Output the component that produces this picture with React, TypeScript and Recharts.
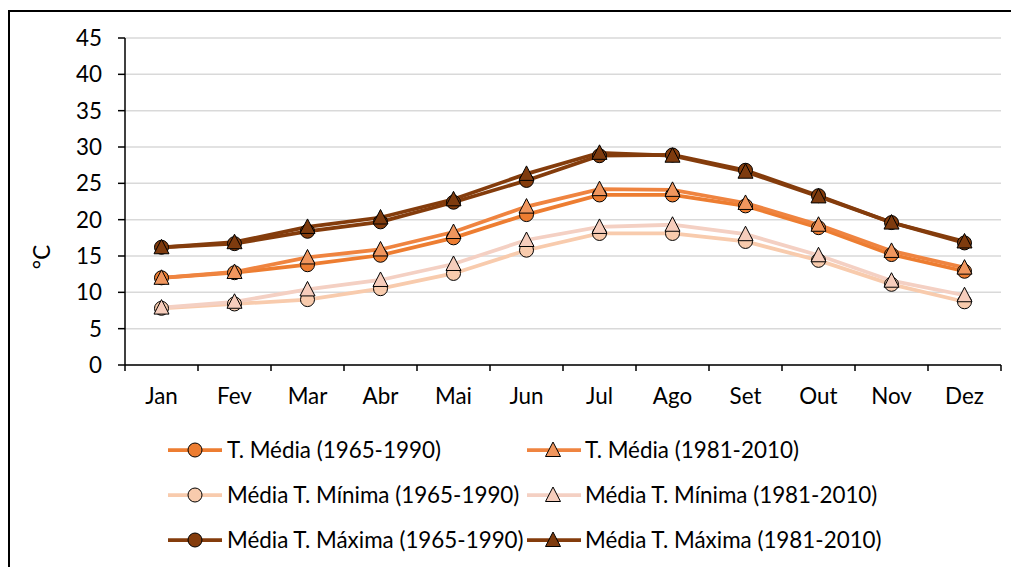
import { LineChart, Line, XAxis, YAxis, CartesianGrid } from "recharts";

const months = ["Jan", "Fev", "Mar", "Abr", "Mai", "Jun", "Jul", "Ago", "Set", "Out", "Nov", "Dez"];

const mediaA = [12.0, 12.7, 13.8, 15.1, 17.5, 20.7, 23.4, 23.4, 21.9, 18.9, 15.2, 12.9];
const mediaB = [12.0, 12.8, 14.8, 15.9, 18.3, 21.8, 24.2, 24.1, 22.3, 19.3, 15.7, 13.4];
const minA = [7.8, 8.4, 9.0, 10.5, 12.6, 15.8, 18.1, 18.1, 17.0, 14.4, 11.1, 8.7];
const minB = [7.9, 8.7, 10.4, 11.7, 13.9, 17.2, 19.0, 19.3, 18.0, 15.1, 11.6, 9.6];
const maxA = [16.2, 16.7, 18.4, 19.7, 22.4, 25.4, 28.8, 28.9, 26.8, 23.3, 19.6, 16.8];
const maxB = [16.2, 16.9, 19.0, 20.3, 22.8, 26.3, 29.2, 28.8, 26.6, 23.2, 19.6, 17.0];

const yTicks = [0, 5, 10, 15, 20, 25, 30, 35, 40, 45];

const data = months.map((m, i) => ({
  month: m,
  mediaA: mediaA[i],
  mediaB: mediaB[i],
  minA: minA[i],
  minB: minB[i],
  maxA: maxA[i],
  maxB: maxB[i],
}));

const FONT = "Lato, 'Liberation Sans', sans-serif";
const FS = 22.4;

const W = 1001;
const H = 555;
const MARGIN = { top: 26, right: 10, left: 0, bottom: 142 };
const Y_W = 115;
const PLOT_W = W - MARGIN.left - MARGIN.right - Y_W;
const BAND = PLOT_W / months.length;
const TICK_SIZE = 6;
const TICK_MARGIN = 17;

type SeriesDef = {
  key: string;
  name: string;
  line: string;
  fill: string;
  shape: "circle" | "triangle";
};

const series: SeriesDef[] = [
  { key: "mediaA", name: "T. Média (1965-1990)", line: "#ED7D31", fill: "#ED7D31", shape: "circle" },
  { key: "mediaB", name: "T. Média (1981-2010)", line: "#EF8440", fill: "#F0965E", shape: "triangle" },
  { key: "minA", name: "Média T. Mínima (1965-1990)", line: "#F8CBAD", fill: "#F8CBAD", shape: "circle" },
  { key: "minB", name: "Média T. Mínima (1981-2010)", line: "#F4D0C3", fill: "#F6CDBC", shape: "triangle" },
  { key: "maxA", name: "Média T. Máxima (1965-1990)", line: "#843C0C", fill: "#843C0C", shape: "circle" },
  { key: "maxB", name: "Média T. Máxima (1981-2010)", line: "#843C0C", fill: "#7E3B0E", shape: "triangle" },
];

function Marker({ cx, cy, fill, shape }: { cx: number; cy: number; fill: string; shape: string }) {
  if (shape === "triangle") {
    const pts = `${cx},${cy - 8} ${cx + 7.5},${cy + 6.5} ${cx - 7.5},${cy + 6.5}`;
    return <polygon points={pts} fill={fill} stroke="#000" strokeWidth={1} />;
  }
  return <circle cx={cx} cy={cy} r={7} fill={fill} stroke="#000" strokeWidth={1} />;
}

function MonthTick(props: any) {
  const { x, y, payload, index } = props;
  const top = y - TICK_SIZE - TICK_MARGIN;
  const left = x - BAND / 2;
  return (
    <g>
      <line x1={left} y1={top} x2={left} y2={top + TICK_SIZE} stroke="#000" strokeWidth={1.5} />
      {index === months.length - 1 && (
        <line x1={x + BAND / 2} y1={top} x2={x + BAND / 2} y2={top + TICK_SIZE} stroke="#000" strokeWidth={1.5} />
      )}
      <text x={x} y={y} dy="0.71em" textAnchor="middle" fill="#000" fontSize={FS} fontFamily={FONT}>
        {payload.value}
      </text>
    </g>
  );
}

function LegendBox() {
  const cols = [
    { line: 158, marker: 185, text: 217 },
    { line: 517, marker: 543, text: 575 },
  ];
  const rowY = [438, 483, 528];
  return (
    <svg width={W} height={H} style={{ position: "absolute", left: 0, top: 0, pointerEvents: "none" }}>
      {series.map((s, i) => {
        const c = cols[i % 2];
        const r = rowY[Math.floor(i / 2)];
        return (
          <g key={s.key}>
            <line x1={c.line} y1={r} x2={c.line + 54} y2={r} stroke={s.line} strokeWidth={3.75} />
            <Marker cx={c.marker} cy={r} fill={s.fill} shape={s.shape} />
            <text x={c.text} y={r} dy="0.355em" fontSize={FS} fontFamily={FONT} fill="#000">
              {s.name}
            </text>
          </g>
        );
      })}
    </svg>
  );
}

export default function App() {
  return (
    <div
      style={{
        position: "relative",
        marginTop: 2,
        width: W,
        height: H,
        borderTop: "2px solid #000",
        borderLeft: "2px solid #000",
        background: "#fff",
      }}
    >
      <style>{"html, body { overflow: hidden; }"}</style>
      <LineChart width={W} height={H} data={data} margin={MARGIN} style={{ fontFamily: FONT }}>
        <CartesianGrid vertical={false} stroke="#D9D9D9" strokeWidth={1.5} />
        <XAxis
          dataKey="month"
          height={60}
          padding={{ left: BAND / 2, right: BAND / 2 }}
          axisLine={{ stroke: "#000", strokeWidth: 1.5 }}
          tickLine={false}
          tickSize={TICK_SIZE}
          tickMargin={TICK_MARGIN}
          tick={<MonthTick />}
          interval={0}
        />
        <YAxis
          width={Y_W}
          domain={[0, 45]}
          ticks={yTicks}
          interval={0}
          axisLine={{ stroke: "#000", strokeWidth: 1.5 }}
          tickLine={{ stroke: "#000", strokeWidth: 1.5 }}
          tickSize={7}
          tickMargin={16}
          tick={{ fill: "#000", fontSize: FS, fontFamily: FONT }}
          label={{
            content: () => (
              <text
                x={32}
                y={245}
                transform="rotate(-90 32 245)"
                textAnchor="middle"
                dy="0.355em"
                fontSize={FS}
                fontFamily={FONT}
                fill="#000"
              >
                °C
              </text>
            ),
          }}
        />
        {series.map((s) => (
          <Line
            key={s.key}
            dataKey={s.key}
            name={s.name}
            stroke={s.line}
            strokeWidth={3.75}
            isAnimationActive={false}
            dot={(p: any) => <Marker key={`${s.key}-${p.index}`} cx={p.cx} cy={p.cy} fill={s.fill} shape={s.shape} />}
            activeDot={false}
          />
        ))}
      </LineChart>
      <LegendBox />
    </div>
  );
}
